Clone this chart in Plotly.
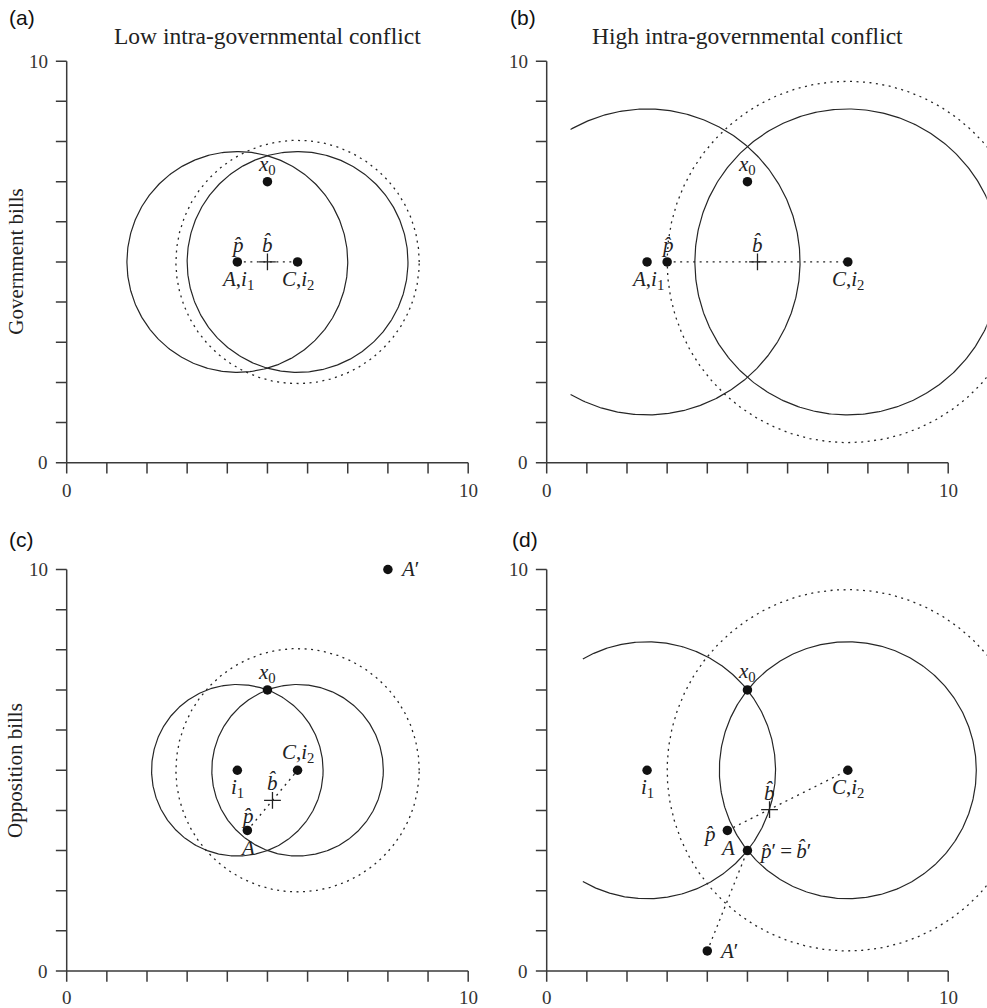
import numpy as np
import plotly.graph_objects as go

W, H = 987, 1008
S = 40.15  # pixels per data unit

# ---------------- data ----------------
tick_vals = list(range(0, 11))
tick_label_vals = [0, 10]
titles = ["Low intra-governmental conflict", "High intra-governmental conflict", "", ""]
panel_tags = ["(a)", "(b)", "(c)", "(d)"]
row_titles = ["Government bills", "Opposition bills"]

# panel (a)
a_pt_x = [4.25, 5.75, 5.0]
a_pt_y = [5.0, 5.0, 7.0]
a_bhat_x = [5.0]
a_bhat_y = [5.0]
a_seg_x = [[4.25, 5.75]]
a_seg_y = [[5.0, 5.0]]
a_solid_cx = [4.25, 5.75]
a_solid_cy = [5.0, 5.0]
a_solid_r = [2.75, 2.75]
a_solid_arc = [[0, 360], [0, 360]]
a_dot_cx = [5.75]
a_dot_cy = [5.0]
a_dot_r = [3.03]
a_labels = [("x0", 5.0, 7.0, "above"), ("phat", 4.25, 5.0, "above"), ("bhat", 5.0, 5.0, "above"),
            ("A,i1", 4.25, 5.0, "below"), ("C,i2", 5.75, 5.0, "below")]

# panel (b)
b_pt_x = [2.5, 3.0, 5.0, 7.5]
b_pt_y = [5.0, 5.0, 7.0, 5.0]
b_bhat_x = [5.25]
b_bhat_y = [5.0]
b_seg_x = [[3.0, 7.5]]
b_seg_y = [[5.0, 5.0]]
b_solid_cx = [2.5, 7.5]
b_solid_cy = [5.0, 5.0]
b_solid_r = [3.81, 3.81]
b_solid_arc = [[-120, 120], [0, 360]]
b_dot_cx = [7.5]
b_dot_cy = [5.0]
b_dot_r = [4.5]
b_labels = [("x0", 5.0, 7.0, "above"), ("phat", 3.0, 5.0, "above"), ("bhat", 5.25, 5.0, "above"),
            ("A,i1", 2.5, 5.0, "below"), ("C,i2", 7.5, 5.0, "below")]

# panel (c)
c_pt_x = [4.25, 5.75, 5.0, 4.5, 8.0]
c_pt_y = [5.0, 5.0, 7.0, 3.5, 10.0]
c_bhat_x = [5.125]
c_bhat_y = [4.25]
c_seg_x = [[4.5, 5.75]]
c_seg_y = [[3.5, 5.0]]
c_solid_cx = [4.25, 5.75]
c_solid_cy = [5.0, 5.0]
c_solid_r = [2.136, 2.136]
c_solid_arc = [[0, 360], [0, 360]]
c_dot_cx = [5.75]
c_dot_cy = [5.0]
c_dot_r = [3.03]
c_labels = [("x0", 5.0, 7.0, "above"), ("C,i2", 5.75, 5.0, "above"), ("i1", 4.25, 5.0, "below"),
            ("bhat", 5.125, 4.25, "above"), ("phat", 4.5, 3.5, "above_close"), ("A", 4.5, 3.5, "below"),
            ("A'", 8.0, 10.0, "right")]

# panel (d)
d_pt_x = [2.5, 7.5, 5.0, 4.5, 5.0, 4.0]
d_pt_y = [5.0, 5.0, 7.0, 3.5, 3.0, 0.5]
d_bhat_x = [5.55]
d_bhat_y = [4.02]
d_seg_x = [[4.5, 7.5], [4.0, 5.0]]
d_seg_y = [[3.5, 5.0], [0.5, 3.0]]
d_solid_cx = [2.5, 7.5]
d_solid_cy = [5.0, 5.0]
d_solid_r = [3.2, 3.2]
d_solid_arc = [[-120, 120], [0, 360]]
d_dot_cx = [7.5]
d_dot_cy = [5.0]
d_dot_r = [4.5]
d_labels = [("x0", 5.0, 7.0, "above_far"), ("i1", 2.5, 5.0, "below"), ("C,i2", 7.5, 5.0, "below"),
            ("bhat", 5.55, 4.02, "above"), ("phat", 4.5, 3.5, "left"), ("A", 4.5, 3.5, "below"),
            ("pb'", 5.0, 3.0, "right"), ("A'", 4.0, 0.5, "right")]

label_text = {
    "x0": "<i>x</i><sub>0</sub>",
    "phat": "<i>p\u0302</i>",
    "bhat": "<i>b\u0302</i>",
    "A,i1": "<i>A</i>,<i>i</i><sub>1</sub>",
    "C,i2": "<i>C</i>,<i>i</i><sub>2</sub>",
    "i1": "<i>i</i><sub>1</sub>",
    "A": "<i>A</i>",
    "A'": "<i>A</i>\u2032",
    "pb'": "<i>p\u0302</i>\u2032\u2009=\u2009<i>b\u0302</i>\u2032",
}

# ---------------- styling / layout ----------------
SERIF = "Liberation Serif"
SANS = "Liberation Sans"
INK = "#222222"
LINE = "#262626"
DOTS = "2px,4.5px"
TICK_LEN = 0.27

label_shift = {
    "above": dict(xshift=0, yshift=17, xanchor="center", yanchor="middle"),
    "above_close": dict(xshift=0, yshift=14, xanchor="center", yanchor="middle"),
    "above_far": dict(xshift=0, yshift=18, xanchor="center", yanchor="middle"),
    "below": dict(xshift=0, yshift=-18, xanchor="center", yanchor="middle"),
    "right": dict(xshift=10, yshift=0, xanchor="left", yanchor="middle"),
    "left": dict(xshift=-9, yshift=-4, xanchor="right", yanchor="middle"),
}

# origin pixel of each panel (x=0, y=0) and visible data ranges
panels = [
    dict(pt_x=a_pt_x, pt_y=a_pt_y, bx=a_bhat_x, by=a_bhat_y, sx=a_seg_x, sy=a_seg_y,
         scx=a_solid_cx, scy=a_solid_cy, sr=a_solid_r, sarc=a_solid_arc,
         dcx=a_dot_cx, dcy=a_dot_cy, dr=a_dot_r, labels=a_labels,
         ox=66.7, oy=462.7, xr=[-1.66, 10.5], yr=[-1.0, 11.5], tagshift=(-60, 44), tl=-27.5),
    dict(pt_x=b_pt_x, pt_y=b_pt_y, bx=b_bhat_x, by=b_bhat_y, sx=b_seg_x, sy=b_seg_y,
         scx=b_solid_cx, scy=b_solid_cy, sr=b_solid_r, sarc=b_solid_arc,
         dcx=b_dot_cx, dcy=b_dot_cy, dr=b_dot_r, labels=b_labels,
         ox=546.7, oy=462.7, xr=[-0.95, 10.96], yr=[-1.0, 11.5], tagshift=(-39, 44), tl=-27.5),
    dict(pt_x=c_pt_x, pt_y=c_pt_y, bx=c_bhat_x, by=c_bhat_y, sx=c_seg_x, sy=c_seg_y,
         scx=c_solid_cx, scy=c_solid_cy, sr=c_solid_r, sarc=c_solid_arc,
         dcx=c_dot_cx, dcy=c_dot_cy, dr=c_dot_r, labels=c_labels,
         ox=66.7, oy=971.0, xr=[-1.66, 10.5], yr=[-0.9, 10.7], tagshift=(-60, 30), tl=-26),
    dict(pt_x=d_pt_x, pt_y=d_pt_y, bx=d_bhat_x, by=d_bhat_y, sx=d_seg_x, sy=d_seg_y,
         scx=d_solid_cx, scy=d_solid_cy, sr=d_solid_r, sarc=d_solid_arc,
         dcx=d_dot_cx, dcy=d_dot_cy, dr=d_dot_r, labels=d_labels,
         ox=546.7, oy=971.0, xr=[-0.95, 10.96], yr=[-0.9, 10.7], tagshift=(-37, 30), tl=-26),
]


def arc(cx, cy, r, a0, a1):
    t = np.radians(np.linspace(a0, a1, 480))
    return cx + r * np.cos(t), cy + r * np.sin(t)


fig = go.Figure()
layout = dict(width=W, height=H, margin=dict(l=0, r=0, t=0, b=0),
              paper_bgcolor="white", plot_bgcolor="white", showlegend=False)
annotations = []

for i, p in enumerate(panels):
    n = "" if i == 0 else str(i + 1)
    xa, ya = "x" + n, "y" + n
    dom_x = [max(0.0, (p["ox"] + S * p["xr"][0]) / W), min(1.0, (p["ox"] + S * p["xr"][1]) / W)]
    dom_y = [max(0.0, (H - (p["oy"] - S * p["yr"][0])) / H), min(1.0, (H - (p["oy"] - S * p["yr"][1])) / H)]
    axcommon = dict(visible=False, showgrid=False, zeroline=False, fixedrange=True)
    layout["xaxis" + n] = dict(domain=dom_x, range=p["xr"], anchor=ya, **axcommon)
    layout["yaxis" + n] = dict(domain=dom_y, range=p["yr"], anchor=xa, **axcommon)

    # axes (drawn in data coordinates)
    axx, axy = [0, 10, None, 0, 0, None], [0, 0, None, 0, 10, None]
    for t in tick_vals:
        axx += [t, t, None]
        axy += [0, -TICK_LEN, None]
        axx += [0, -TICK_LEN, None]
        axy += [t, t, None]
    fig.add_trace(go.Scatter(x=axx, y=axy, mode="lines", xaxis=xa, yaxis=ya,
                             line=dict(color="#3a3a3a", width=1.5), hoverinfo="skip"))
    for t in tick_label_vals:
        annotations.append(dict(x=t, y=0, xref=xa, yref=ya, text=str(t), showarrow=False,
                                yshift=p["tl"], xanchor="center", yanchor="middle",
                                font=dict(family=SERIF, size=19, color="#333333")))
        annotations.append(dict(x=0, y=t, xref=xa, yref=ya, text=str(t), showarrow=False,
                                xshift=-17, xanchor="right", yanchor="middle",
                                font=dict(family=SERIF, size=19, color="#333333")))

    # dotted circles
    for cx, cy, r in zip(p["dcx"], p["dcy"], p["dr"]):
        x, y = arc(cx, cy, r, 0, 360)
        fig.add_trace(go.Scatter(x=x, y=y, mode="lines", xaxis=xa, yaxis=ya,
                                 line=dict(color=LINE, width=1.3, dash=DOTS), hoverinfo="skip"))
    # solid circles / arcs
    for cx, cy, r, (a0, a1) in zip(p["scx"], p["scy"], p["sr"], p["sarc"]):
        x, y = arc(cx, cy, r, a0, a1)
        fig.add_trace(go.Scatter(x=x, y=y, mode="lines", xaxis=xa, yaxis=ya,
                                 line=dict(color=LINE, width=1.2), hoverinfo="skip"))
    # dotted segments
    for sx, sy in zip(p["sx"], p["sy"]):
        fig.add_trace(go.Scatter(x=sx, y=sy, mode="lines", xaxis=xa, yaxis=ya,
                                 line=dict(color=LINE, width=1.3, dash=DOTS), hoverinfo="skip"))
    # points
    fig.add_trace(go.Scatter(x=p["pt_x"], y=p["pt_y"], mode="markers", xaxis=xa, yaxis=ya,
                             marker=dict(color="#111111", size=9.5), hoverinfo="skip", cliponaxis=False))
    fig.add_trace(go.Scatter(x=p["bx"], y=p["by"], mode="markers", xaxis=xa, yaxis=ya,
                             marker=dict(symbol="cross-thin", size=12, line=dict(color="#222222", width=1.3)),
                             hoverinfo="skip"))
    # point labels
    for key, lx, ly, pos in p["labels"]:
        annotations.append(dict(x=lx, y=ly, xref=xa, yref=ya, text=label_text[key], showarrow=False,
                                font=dict(family=SERIF, size=21, color=INK), **label_shift[pos]))
    # panel tag
    annotations.append(dict(x=0, y=10, xref=xa, yref=ya, text=panel_tags[i], showarrow=False,
                            xshift=p["tagshift"][0], yshift=p["tagshift"][1], xanchor="left", yanchor="middle",
                            font=dict(family=SANS, size=21, color="#111111")))
    # title
    if titles[i]:
        annotations.append(dict(x=5, y=10, xref=xa, yref=ya, text=titles[i], showarrow=False,
                                yshift=25, xanchor="center", yanchor="middle",
                                font=dict(family=SERIF, size=23.5, color=INK)))
    # row title
    if i in (0, 2):
        annotations.append(dict(x=0, y=5, xref=xa, yref=ya, text=row_titles[i // 2], showarrow=False,
                                xshift=-51, xanchor="center", yanchor="middle", textangle=-90,
                                font=dict(family=SERIF, size=21, color=INK)))

layout["annotations"] = annotations
fig.update_layout(**layout)
fig.write_html("out.html", config={"displayModeBar": False},
               post_script="document.body.style.margin='0';document.body.style.overflow='hidden';")
